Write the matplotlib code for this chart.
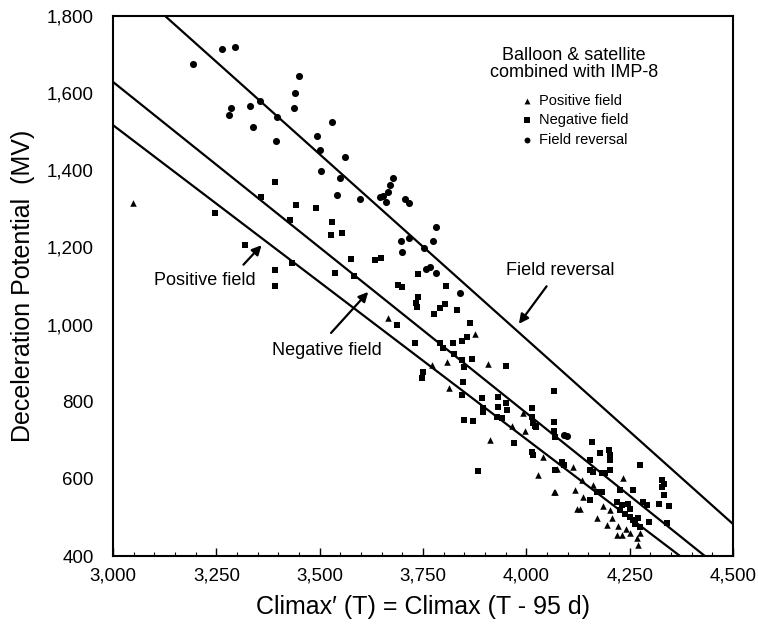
import matplotlib
matplotlib.use("Agg")
import matplotlib.pyplot as plt
from matplotlib.ticker import MultipleLocator, FuncFormatter
import numpy as np

plt.rcParams['font.family'] = ['Liberation Sans', 'DejaVu Sans']

# ---- data ----
rev_x = [3193, 3264, 3295, 3451, 3441, 3437, 3332, 3356, 3286, 3281, 3338, 3396, 3531, 3395,
         3494, 3501, 3561, 3503, 3549, 3543, 3598, 3646, 3678, 3669, 3666, 3654, 3661, 3707,
         3715, 3781, 3697, 3717, 3775, 3753, 3700, 3767, 3757, 3781, 3840, 4091, 4098]
rev_y = [1675, 1714, 1720, 1645, 1600, 1561, 1567, 1580, 1562, 1544, 1511, 1539, 1526, 1475,
         1488, 1452, 1434, 1397, 1381, 1337, 1325, 1330, 1380, 1362, 1344, 1333, 1318, 1325,
         1314, 1253, 1217, 1224, 1217, 1199, 1187, 1150, 1143, 1133, 1083, 714, 711]

neg_x = [3247, 3319, 3392, 3392, 3432, 3393, 3443, 3491, 3358, 3427, 3529, 3555, 3527, 3577,
         3634, 3649, 3537, 3584, 3690, 3698, 3805, 3739, 3739, 3733, 3736, 3803, 3791, 3777,
         3832, 3864, 3686, 3731, 3791, 3798, 3822, 3844, 3856, 3824, 3844, 3848, 3868, 3950,
         3751, 3747, 3846, 3844, 4066, 3892, 3931, 3894, 3932, 3951, 3953, 3928, 3940, 3896,
         4013, 4013, 4021, 3848, 3870, 4066, 4066, 4070, 3969, 4013, 4017, 3882, 4158, 4178,
         4199, 4203, 4203, 4275, 4086, 4090, 4070, 4154, 4154, 4162, 4183, 4191, 4203, 4170,
         4183, 4154, 4259, 4227, 4328, 4334, 4328, 4332, 4321, 4344, 4283, 4291, 4219, 4231,
         4227, 4239, 4247, 4251, 4251, 4259, 4263, 4271, 4275, 4296, 4340, 4024, 4017]
neg_y = [1289, 1206, 1141, 1100, 1159, 1369, 1310, 1303, 1331, 1271, 1267, 1238, 1232, 1170,
         1167, 1173, 1135, 1126, 1102, 1097, 1100, 1130, 1072, 1055, 1046, 1053, 1042, 1027,
         1038, 1003, 999, 951, 951, 938, 951, 958, 967, 925, 908, 891, 910, 892,
         878, 861, 852, 817, 828, 809, 813, 783, 787, 796, 778, 761, 757, 774,
         785, 761, 737, 752, 751, 748, 725, 709, 692, 670, 662, 621, 696, 666,
         675, 662, 649, 636, 644, 636, 623, 649, 623, 618, 614, 616, 623, 567,
         567, 545, 571, 571, 597, 588, 580, 558, 536, 529, 541, 532, 541, 532,
         519, 510, 536, 523, 502, 493, 484, 498, 476, 489, 485, 735, 744]

pos_x = [3048, 3666, 3876, 3807, 3908, 3771, 3814, 3993, 3965, 3997, 3911, 4041, 4028, 4070,
         4073, 4114, 4235, 4134, 4066, 4118, 4162, 4138, 4275, 4267, 4219, 4231, 4251, 4195,
         4223, 4170, 4122, 4129, 4203, 4207, 4271, 4240, 4185]
pos_y = [1315, 1016, 975, 904, 899, 895, 836, 770, 737, 725, 701, 657, 610, 567,
         625, 631, 601, 597, 567, 571, 584, 554, 459, 446, 454, 454, 459, 480,
         478, 498, 523, 523, 519, 498, 428, 470, 530]

# fitted lines: endpoints
rev_line_x = [3126, 4500]
rev_line_y = [1800, 483]
neg_line_x = [3000, 4432]
neg_line_y = [1629, 400]
pos_line_x = [3000, 4372]
pos_line_y = [1517, 400]

fig = plt.figure(figsize=(7.58, 6.27), dpi=100)
ax = fig.add_axes([0.1491, 0.1132, 0.8179, 0.8613])

ax.plot(rev_line_x, rev_line_y, color='black', lw=1.6)
ax.plot(neg_line_x, neg_line_y, color='black', lw=1.6)
ax.plot(pos_line_x, pos_line_y, color='black', lw=1.6)

ax.scatter(pos_x, pos_y, marker='^', s=22, color='black', linewidths=0)
ax.scatter(neg_x, neg_y, marker='s', s=24, color='black', linewidths=0)
ax.scatter(rev_x, rev_y, marker='o', s=26, color='black', linewidths=0)

ax.set_xlim(3000, 4500)
ax.set_ylim(400, 1800)
ax.xaxis.set_major_locator(MultipleLocator(250))
ax.xaxis.set_minor_locator(MultipleLocator(50))
ax.yaxis.set_major_locator(MultipleLocator(200))
fmt = FuncFormatter(lambda v, p: f"{int(v):,}")
ax.xaxis.set_major_formatter(fmt)
ax.yaxis.set_major_formatter(fmt)
ax.tick_params(axis='x', which='major', direction='in', length=6, width=1, labelsize=13.5, pad=8)
ax.tick_params(axis='x', which='minor', direction='in', length=3, width=0.8)
ax.tick_params(axis='y', which='major', length=0, labelsize=13.5, pad=14)
for s in ax.spines.values():
    s.set_linewidth(1.5)

ax.set_xlabel("Climax\u2032 (T) = Climax (T - 95 d)", fontsize=18, labelpad=8)
ax.set_ylabel("Deceleration Potential  (MV)", fontsize=18, labelpad=8)

# annotations
ax.annotate("", xy=(3364, 1211), xytext=(3311, 1150),
            arrowprops=dict(arrowstyle='-|>', color='black', lw=1.6, mutation_scale=14))
ax.text(3223, 1115, "Positive field", fontsize=13, ha='center', va='center')
ax.annotate("", xy=(3622, 1090), xytext=(3523, 973),
            arrowprops=dict(arrowstyle='-|>', color='black', lw=1.6, mutation_scale=14))
ax.text(3518, 934, "Negative field", fontsize=13, ha='center', va='center')
ax.annotate("", xy=(3978, 996), xytext=(4053, 1105),
            arrowprops=dict(arrowstyle='-|>', color='black', lw=1.6, mutation_scale=14))
ax.text(4082, 1141, "Field reversal", fontsize=13, ha='center', va='center')

# legend block
ax.text(0.744, 0.911, "Balloon & satellite\ncombined with IMP-8", transform=ax.transAxes,
        fontsize=13, ha='center', va='center', linespacing=1.05)
leg_labels = ["Positive field", "Negative field", "Field reversal"]
leg_markers = ['^', 's', 'o']
leg_y = [0.843, 0.808, 0.771]
for lab, mk, yy in zip(leg_labels, leg_markers, leg_y):
    ax.scatter([0.668], [yy], marker=mk, s=18, color='black', transform=ax.transAxes, linewidths=0)
    ax.text(0.687, yy, lab, transform=ax.transAxes, fontsize=10.5, ha='left', va='center')

fig.savefig("out.png", dpi=100)
